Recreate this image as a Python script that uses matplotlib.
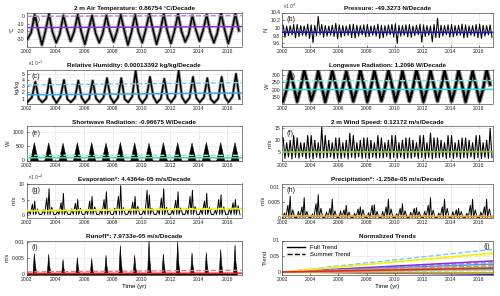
import numpy as np
import matplotlib
matplotlib.use("Agg")
import matplotlib.pyplot as plt
from matplotlib.ticker import FuncFormatter
from matplotlib.lines import Line2D

plt.rcParams['font.family'] = ['Liberation Sans', 'DejaVu Sans']

# ---------------- data ----------------
years = list(range(2002, 2017))
xticks = [2002, 2004, 2006, 2008, 2010, 2012, 2014, 2016]

titles = ["2 m Air Temperature: 0.86754 \u00b0C/Decade", "Pressure: -49.3273 N/Decade",
          "Relative Humidity: 0.00013392 kg/kg/Decade", "Longwave Radiation: 1.2096 W/Decade",
          "Shortwave Radiation: -0.96675 W/Decade", "2 m Wind Speed: 0.12172 m/s/Decade",
          "Evaporation*: 4.4364e-05 m/s/Decade", "Precipitation*: -1.258e-05 m/s/Decade",
          "Runoff*: 7.9733e-05 m/s/Decade", "Normalized Trends"]
units = ["\u00b0C", "N", "kg/kg", "W", "W", "m/s", "m/s", "m/s", "m/s", "Trend"]
letters = ["(a)", "(b)", "(c)", "(d)", "(e)", "(f)", "(g)", "(h)", "(i)", "(j)"]
colors = ["#8a2be2", "#1414c8", "#33a6ec", "#1fe0e0", "#3ddca8", "#86c936", "#f0f014", "#e89a1c", "#ee2020"]
summer_colors = ["#b77cf0", "#5a5ae0", "#7cc8f4", "#7aeeee", "#86eccb", "#b5e07e", "#f6f67a", "#f2c070", "#f47a7a"]

# (a) 2 m air temperature, seasonal points
t2m_phase = [0.06, 0.30, 0.56, 0.80]
t2m_winter = [-30, -38, -35, -33, -37, -35, -34, -38, -35, -37, -36, -34, -33, -35, -36]
t2m_spring = [-22, -20, -24, -21, -19, -23, -20, -22, -18, -21, -20, -24, -19, -22, -20]
t2m_summer = [2, 3, 1, 2, 1, 1, 2, 2, 4, 3, 3, 1, 2, 4, 3]
t2m_autumn = [-18, -21, -17, -20, -22, -19, -18, -21, -17, -19, -20, -18, -21, -17, -19]

# (b) pressure, quarterly highs / lows
pres_hi = [100700, 100500, 100600, 100900, 100900, 100600, 100500, 101000,
           100800, 100700, 103000, 100900, 100600, 100500, 100700, 101200,
           100800, 100600, 100500, 100900, 101000, 100700, 100600, 100800,
           100900, 100500, 100600, 101000, 100700, 100600, 100800, 100900,
           101100, 100700, 100600, 100800, 100900, 100500, 100700, 101000,
           100800, 100600, 100500, 100900, 102500, 100700, 100600, 100800,
           100900, 100600, 100700, 101000, 100800, 100500, 100600, 100900,
           101000, 100700, 100600, 100800]
pres_lo = [97600, 98000, 98200, 97400, 97800, 98100, 97900, 97300,
           96200, 98000, 98200, 97600, 97900, 98100, 97800, 97200,
           97600, 98000, 98100, 97500, 97400, 97900, 98200, 97700,
           97800, 98100, 97900, 97300, 97500, 98000, 98200, 97600,
           96000, 97900, 98100, 97700, 97600, 98000, 98200, 96300,
           97800, 98100, 96400, 97500, 97500, 97900, 98200, 97600,
           97700, 98000, 98100, 97400, 97600, 98100, 97900, 97500,
           97300, 97900, 98200, 97600]

# (c) relative humidity (kg/kg), seasonal points
rh_phase = [0.08, 0.36, 0.60, 0.84]
rh_winter = [0.0005, 0.0004, 0.0003, 0.0004, 0.0003, 0.0004, 0.0003, 0.0004, 0.0003, 0.0003, 0.0004, 0.0003, 0.0004, 0.0003, 0.0004]
rh_spring = [0.0012, 0.0010, 0.0013, 0.0011, 0.0010, 0.0012, 0.0011, 0.0013, 0.0012, 0.0010, 0.0013, 0.0011, 0.0012, 0.0010, 0.0013]
rh_summer = [0.0037, 0.0042, 0.0040, 0.0039, 0.0039, 0.0043, 0.0043, 0.0055, 0.0045, 0.0042, 0.0055, 0.0045, 0.0043, 0.0045, 0.0050]
rh_autumn = [0.0010, 0.0012, 0.0009, 0.0011, 0.0010, 0.0012, 0.0009, 0.0011, 0.0013, 0.0010, 0.0012, 0.0011, 0.0009, 0.0012, 0.0010]

# (d) longwave radiation, seasonal points
lw_phase = [0.06, 0.30, 0.56, 0.80]
lw_winter = [125, 122, 128, 120, 126, 124, 121, 127, 123, 125, 122, 126, 124, 121, 125]
lw_spring = [200, 210, 195, 205, 215, 200, 210, 205, 198, 208, 202, 212, 200, 206, 204]
lw_summer = [320, 330, 325, 328, 322, 332, 326, 330, 324, 333, 328, 326, 330, 325, 334]
lw_autumn = [230, 240, 225, 235, 228, 238, 232, 236, 226, 240, 230, 234, 238, 228, 236]

# (e) shortwave radiation, summer peaks
sw_peak = [640, 630, 620, 635, 640, 625, 645, 630, 620, 640, 635, 630, 650, 640, 645]

# (f) 2 m wind speed, quarterly highs / lows
wind_hi = [11, 9, 10, 12, 11, 9, 9, 12, 12, 10, 9, 15.5, 12, 10, 9, 11,
           11, 9, 10, 13, 12, 9, 10, 11, 11, 10, 9, 12, 11, 9, 10, 12,
           12, 9, 10, 11, 11, 10, 9, 12, 12, 9, 13, 11, 11, 10, 9, 12,
           12, 9, 10, 11, 11, 10, 9, 12, 12, 9, 10, 15]
wind_lo = [2.4, 3.0, 2.2, 2.8, 2.5, 3.1, 2.3, 2.6, 2.2, 2.9, 2.4, 2.7,
           2.6, 3.0, 2.3, 2.5, 2.4, 2.8, 2.2, 2.9, 2.5, 3.0, 2.4, 2.6,
           2.3, 2.9, 2.5, 2.7, 2.6, 3.1, 2.2, 2.8, 2.4, 2.9, 2.3, 2.6,
           2.5, 3.0, 2.4, 2.7, 2.3, 2.8, 2.2, 2.6, 2.6, 3.0, 2.4, 2.8,
           2.4, 2.9, 2.3, 2.7, 2.5, 3.0, 2.2, 2.6, 2.3, 2.8, 2.4, 2.7]

# (g) evaporation (m/s), spikes per year
evap_floor = 0.2e-4
evap_q1 = [1.5e-4, 1.8e-4, 1.2e-4, 2.0e-4, 1.6e-4, 1.4e-4, 2.2e-4, 1.7e-4, 1.5e-4, 1.9e-4, 1.6e-4, 2.0e-4, 1.8e-4, 1.5e-4, 2.1e-4]
evap_spike_a = [3.5e-4, 5.5e-4, 4.0e-4, 3.8e-4, 4.5e-4, 5.0e-4, 6.0e-4, 4.2e-4, 8.0e-4, 5.5e-4, 4.8e-4, 6.0e-4, 4.5e-4, 5.0e-4, 4.0e-4]
evap_spike_b = [4.5e-4, 8.5e-4, 7.0e-4, 5.0e-4, 6.0e-4, 7.5e-4, 9.5e-4, 6.0e-4, 6.5e-4, 8.5e-4, 7.5e-4, 8.0e-4, 7.0e-4, 6.5e-4, 5.0e-4]
evap_q4 = [2.0e-4, 2.5e-4, 1.8e-4, 2.2e-4, 2.6e-4, 2.0e-4, 2.4e-4, 2.8e-4, 2.2e-4, 2.5e-4, 2.3e-4, 2.7e-4, 2.4e-4, 2.6e-4, 3.0e-4]

# (h) precipitation (m/s), spikes per year
prec_q1 = [0.0015, 0.002, 0.0012, 0.0018, 0.0022, 0.0014, 0.0016, 0.002, 0.0013, 0.0017, 0.0021, 0.0015, 0.0019, 0.0014, 0.0018]
prec_spike_a = [0.004, 0.0035, 0.0045, 0.003, 0.0025, 0.0028, 0.004, 0.0035, 0.003, 0.003, 0.004, 0.0035, 0.0025, 0.004, 0.0035]
prec_spike_b = [0.007, 0.0065, 0.0075, 0.006, 0.004, 0.0035, 0.0042, 0.006, 0.0045, 0.0032, 0.0065, 0.006, 0.003, 0.006, 0.006]
prec_q4 = [0.0025, 0.002, 0.003, 0.0022, 0.0018, 0.0026, 0.002, 0.0028, 0.0022, 0.0019, 0.0024, 0.003, 0.002, 0.0025, 0.0028]

# (i) runoff (m/s), annual peak
runoff_base = 0.0002
runoff_peak = [0.0065, 0.0063, 0.0047, 0.0053, 0.0050, 0.0060, 0.0090, 0.0060, 0.0105, 0.0064, 0.0102, 0.0068, 0.0068, 0.0078, 0.0092]
runoff_second = [0.0035, 0.0030, 0.0020, 0.0025, 0.0022, 0.0028, 0.0040, 0.0025, 0.0045, 0.0030, 0.0042, 0.0030, 0.0030, 0.0035, 0.0040]

# trend lines (value at 2002, value at 2017)
full_trend = [(-15.0, -13.7), (98900, 98830), (1.6e-3, 1.9e-3), (202, 204), (95, 93),
              (5.0, 5.2), (1.3e-4, 2.0e-4), (0.0004, 0.0003), (0.0003, 0.0004)]
summer_trend = [(0.0, 1.0), (98920, 98880), (3.2e-3, 3.57e-3), (260, 262), (180, 178),
                (5.1, 5.3), (1.5e-4, 2.2e-4), (0.0006, 0.0005), (0.0008, 0.0013)]

# (j) normalized trends at 2017 (start at 0 in 2002)
norm_full = [0.035, -0.007, 0.025, 0.008, -0.004, 0.015, 0.060, -0.003, 0.012]
norm_summer = [0.030, -0.005, 0.072, 0.006, -0.002, 0.020, 0.055, 0.004, 0.020]

ylims = [(-40, 5), (95200, 103700), (0.2e-3, 5.7e-3), (110, 335), (0, 1180),
         (1.5, 15.8), (-0.8e-4, 10.2e-4), (0, 0.0112), (0, 0.0104), (-0.008, 0.1)]
yticks = [[-30, -20, -10, 0], [96000, 98000, 100000, 102000, 104000],
          [1e-3, 2e-3, 3e-3, 4e-3, 5e-3], [150, 200, 250, 300], [0, 500, 1000],
          [5, 10, 15], [0, 5e-4, 10e-4], [0, 0.005, 0.01], [0, 0.005, 0.01], [0, 0.05, 0.1]]
yscale_exp = [None, 4, -3, None, None, None, -4, None, None, None]

# ---------------- helpers ----------------
def seasonal(phases, arrays):
    t, v = [], []
    for i, y in enumerate(years):
        for ph, arr in zip(phases, arrays):
            t.append(y + ph)
            v.append(arr[i])
    return np.array(t), np.array(v)

def zigzag(hi, lo):
    t, v = [], []
    for i, y in enumerate(years):
        for q in range(4):
            t += [y + q / 4 + 0.06, y + q / 4 + 0.19]
            v += [hi[4 * i + q], lo[4 * i + q]]
    return np.array(t), np.array(v)

# ---------------- figure ----------------
fig = plt.figure(figsize=(5.0, 2.96), dpi=100)
W, H = 500.0, 296.0
axes = [None] * 10
for col in range(2):
    for row in range(5):
        idx = row * 2 + col
        top = 12.5 + 57 * row
        if col == 0:
            x0, w = 26.7, 215.0
        else:
            x0, w = 282.3, 210.5
        axes[idx] = fig.add_axes([x0 / W, 1 - (top + 34) / H, w / W, 34 / H])

tick_fs = 3.7
for k, ax in enumerate(axes):
    ax.set_xlim(2002, 2017)
    ax.set_ylim(*ylims[k])
    ax.set_xticks(xticks)
    ax.set_yticks(yticks[k])
    e = yscale_exp[k]
    if e is not None:
        ax.yaxis.set_major_formatter(FuncFormatter(lambda v, p, e=e: f"{v / 10**e:g}"))
        ax.text(0.0, 1.03, r"$\times10^{%d}$" % e, transform=ax.transAxes,
                fontsize=3.4, color="#404040", ha="left", va="bottom")
    else:
        ax.yaxis.set_major_formatter(FuncFormatter(lambda v, p: f"{v:g}"))
    ax.grid(True, color="#e3e3e3", lw=0.4)
    ax.set_axisbelow(True)
    ax.tick_params(direction="in", length=1.5, width=0.4, labelsize=tick_fs,
                   colors="#262626", pad=1.5)
    for s in ax.spines.values():
        s.set_linewidth(0.4)
        s.set_color("#262626")
    ax.set_title(titles[k], fontsize=4.6, fontweight="bold", pad=1.8, color="#111111")
    ax.set_ylabel(units[k], fontsize=4.2, labelpad=1.5, color="#262626")
    if k == 9:
        ax.text(0.985, 0.83, letters[k], transform=ax.transAxes, fontsize=5.2, ha="right", va="center", color="#222222")
    else:
        ax.text(0.022, 0.80, letters[k], transform=ax.transAxes, fontsize=5.2, ha="left", va="center", color="#222222")

axes[8].set_xlabel("Time (yr)", fontsize=4.4, labelpad=1.5)
axes[9].set_xlabel("Time (yr)", fontsize=4.4, labelpad=1.5)

def draw_trends(ax, k):
    ax.plot([2002, 2017], list(summer_trend[k]), color=summer_colors[k], lw=1.0, ls="--", zorder=5)
    ax.plot([2002, 2017], list(full_trend[k]), color=colors[k], lw=1.1, zorder=6)

# (a)
t, v = seasonal(t2m_phase, [t2m_winter, t2m_spring, t2m_summer, t2m_autumn])
axes[0].plot(t, v, color="#9a9a9a", lw=2.6, zorder=2)
axes[0].plot(t, v, color="black", lw=1.1, zorder=3)
draw_trends(axes[0], 0)

# (b)
t, v = zigzag(pres_hi, pres_lo)
axes[1].plot(t, v, color="black", lw=0.75, zorder=3)
draw_trends(axes[1], 1)

# (c)
t, v = seasonal(rh_phase, [rh_winter, rh_spring, rh_summer, rh_autumn])
axes[2].plot(t, v, color="#9a9a9a", lw=2.2, zorder=2)
axes[2].plot(t, v, color="black", lw=1.1, zorder=3)
draw_trends(axes[2], 2)

# (d)
t, v = seasonal(lw_phase, [lw_winter, lw_spring, lw_summer, lw_autumn])
axes[3].plot(t, v, color="#8a8a8a", lw=3.2, zorder=2)
axes[3].plot(t, v, color="black", lw=1.6, zorder=3)
draw_trends(axes[3], 3)

# (e)
t = []
v = []
for i, y in enumerate(years):
    t += [y + 0.22, y + 0.5, y + 0.78]
    v += [0, sw_peak[i], 0]
axes[4].fill_between(t, 0, v, color="black", lw=0.3, zorder=3)
draw_trends(axes[4], 4)

# (f)
t, v = zigzag(wind_hi, wind_lo)
axes[5].plot(t, v, color="black", lw=0.8, zorder=3)
draw_trends(axes[5], 5)

# (g)
t, v = seasonal([0.05, 0.15, 0.25, 0.40, 0.47, 0.56, 0.63, 0.75, 0.88],
                [[evap_floor] * 15, evap_q1, [evap_floor] * 15, evap_spike_a, [evap_floor] * 15,
                 evap_spike_b, [evap_floor] * 15, evap_q4, [evap_floor] * 15])
axes[6].plot(t, v, color="black", lw=0.7, zorder=3)
draw_trends(axes[6], 6)

# (h)
t, v = seasonal([0.05, 0.15, 0.25, 0.40, 0.47, 0.56, 0.63, 0.75, 0.88],
                [[0.0] * 15, prec_q1, [0.0] * 15, prec_spike_a, [0.0] * 15,
                 prec_spike_b, [0.0] * 15, prec_q4, [0.0] * 15])
axes[7].plot(t, v, color="black", lw=0.7, zorder=3)
draw_trends(axes[7], 7)

# (i)
t, v = seasonal([0.05, 0.40, 0.50, 0.56, 0.66],
                [[runoff_base] * 15, [runoff_base] * 15, runoff_peak, runoff_second, [runoff_base] * 15])
axes[8].fill_between(t, 0, v, color="black", lw=0.4, zorder=3)
draw_trends(axes[8], 8)

# (j)
for k in range(9):
    axes[9].plot([2002, 2017], [0, norm_summer[k]], color=summer_colors[k], lw=1.0, ls="--")
    axes[9].plot([2002, 2017], [0, norm_full[k]], color=colors[k], lw=1.1)
handles = [Line2D([], [], color="black", lw=1.0), Line2D([], [], color="black", lw=1.0, ls="--")]
axes[9].legend(handles, ["Full Trend", "Summer Trend"], loc="upper left", fontsize=4.4,
               frameon=False, handlelength=3.0, borderaxespad=0.3, labelspacing=0.3)

fig.savefig("out.png", dpi=100)
